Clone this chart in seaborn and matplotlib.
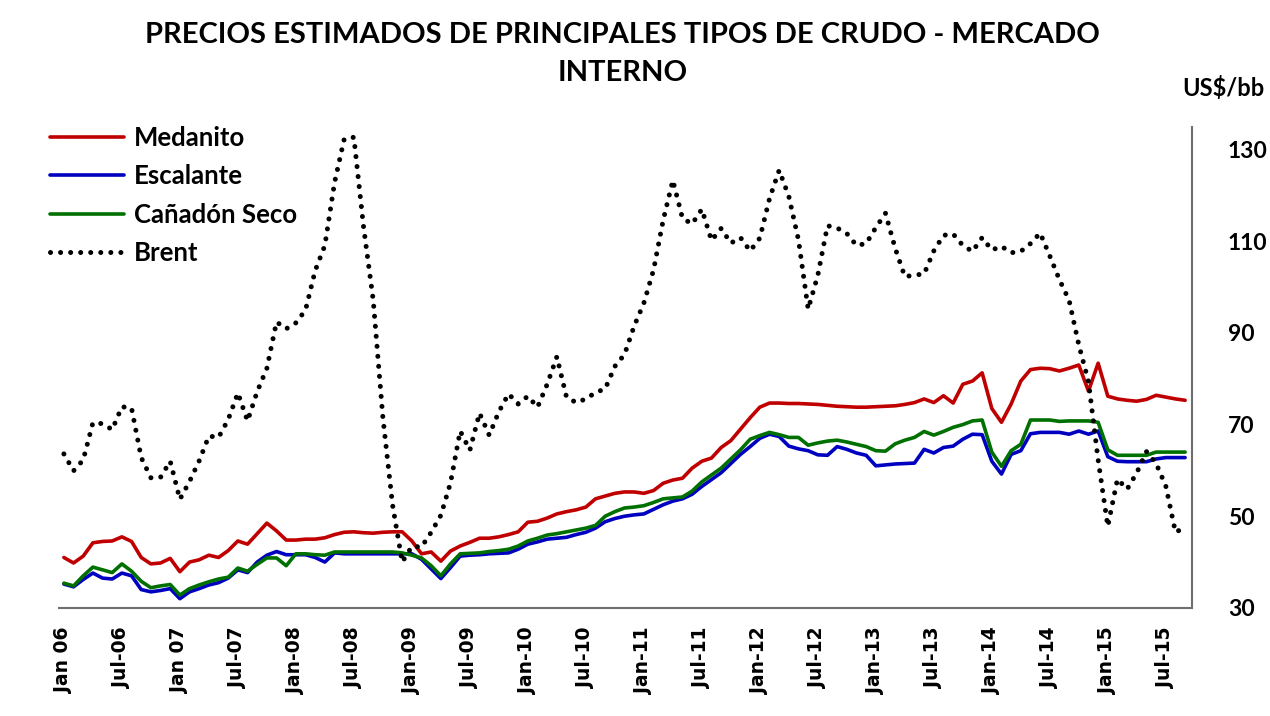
import matplotlib
matplotlib.use("Agg")
import matplotlib.pyplot as plt
import seaborn as sns
import pandas as pd

# Monthly prices Jan 2006 - Sep 2015 (US$/bbl)
medanito = [
    41.0, 39.8, 41.3, 44.2, 44.5, 44.6, 45.5, 44.5, 41.0, 39.6, 39.8, 40.8,
    37.9, 40.0, 40.5, 41.5, 41.0, 42.5, 44.6, 43.9, 46.2, 48.5, 46.8, 44.8,
    44.8, 45.0, 45.0, 45.3, 46.0, 46.5, 46.6, 46.4, 46.3, 46.5, 46.6, 46.6,
    44.6, 41.8, 42.2, 40.2, 42.4, 43.5, 44.3, 45.2, 45.2, 45.5, 46.0, 46.6,
    48.7, 48.9, 49.6, 50.5, 51.0, 51.4, 52.0, 53.8, 54.4, 55.0, 55.3, 55.3,
    55.0, 55.6, 57.2, 57.9, 58.3, 60.5, 62.0, 62.7, 65.0, 66.5, 69.0, 71.5,
    73.8, 74.7, 74.7, 74.6, 74.6, 74.5, 74.4, 74.2, 74.0, 73.9, 73.8, 73.8,
    73.9, 74.0, 74.1, 74.4, 74.8, 75.6, 74.8, 76.3, 74.7, 78.8, 79.5, 81.3,
    73.5, 70.5, 74.5, 79.5, 82.0, 82.3, 82.2, 81.7, 82.3, 83.0, 77.3, 83.4,
    76.2, 75.6, 75.3, 75.1, 75.5, 76.4, 76.0, 75.6, 75.3,
]
escalante = [
    35.2, 34.6, 36.2, 37.6, 36.5, 36.3, 37.6, 37.0, 34.0, 33.5, 33.8, 34.2,
    32.0, 33.5, 34.2, 35.0, 35.5, 36.5, 38.3, 37.7, 40.0, 41.5, 42.3, 41.6,
    41.6, 41.6, 41.0, 40.0, 42.0, 41.8, 41.8, 41.8, 41.8, 41.8, 41.8, 41.8,
    41.8, 40.6, 38.5, 36.4, 38.8, 41.3, 41.5, 41.6, 41.8, 41.9, 42.0, 42.8,
    43.9, 44.4, 45.0, 45.2, 45.4, 46.0, 46.5, 47.4, 48.8, 49.5, 50.0, 50.3,
    50.5, 51.5, 52.5, 53.3, 53.8, 54.8, 56.5, 58.0, 59.5, 61.5, 63.5, 65.2,
    67.0, 67.9, 67.4, 65.3, 64.7, 64.3, 63.4, 63.3, 65.2, 64.6, 63.8, 63.3,
    61.0, 61.2, 61.4, 61.5, 61.6, 64.6, 63.8, 65.0, 65.3, 66.8, 67.9, 67.8,
    62.0, 59.2, 63.5, 64.3, 68.0, 68.3, 68.3, 68.3, 67.9, 68.6, 67.9, 68.6,
    63.0, 62.0, 61.9, 61.9, 61.9, 62.5, 62.8, 62.8, 62.8,
]
canadon_seco = [
    35.4, 34.8, 37.0, 38.9, 38.3, 37.7, 39.6, 38.0, 35.8, 34.4, 34.8, 35.1,
    32.8, 34.2, 35.0, 35.7, 36.3, 36.7, 38.7, 38.0, 39.5, 40.9, 40.9, 39.2,
    41.8, 41.8, 41.6, 41.5, 42.2, 42.2, 42.2, 42.2, 42.2, 42.2, 42.2, 42.0,
    41.5, 40.9, 39.2, 37.0, 39.6, 41.8, 41.9, 42.0, 42.3, 42.5, 42.8, 43.5,
    44.6, 45.2, 45.9, 46.2, 46.6, 47.0, 47.4, 48.0, 50.0, 51.0, 51.8, 52.0,
    52.3, 53.0, 53.8, 54.0, 54.2, 55.5, 57.5, 59.0, 60.5, 62.5, 64.5, 66.8,
    67.6, 68.3, 67.8, 67.2, 67.2, 65.5, 66.0, 66.4, 66.6, 66.2, 65.7, 65.2,
    64.3, 64.2, 65.8, 66.6, 67.2, 68.5, 67.7, 68.5, 69.4, 70.0, 70.8, 71.0,
    64.0, 60.9, 64.3, 65.7, 71.0, 71.0, 71.0, 70.7, 70.8, 70.8, 70.8, 70.5,
    64.5, 63.3, 63.3, 63.3, 63.3, 64.0, 64.0, 64.0, 64.0,
]
brent = [
    63.6, 59.9, 62.3, 70.4, 70.2, 68.9, 73.9, 73.6, 62.8, 58.4, 58.5, 62.0,
    53.7, 57.6, 62.1, 67.5, 67.2, 71.1, 76.9, 70.8, 77.2, 82.3, 92.4, 90.9,
    92.2, 95.0, 103.6, 109.1, 122.8, 132.3, 132.7, 113.2, 97.2, 71.6, 52.5, 40.0,
    43.4, 43.3, 46.5, 50.2, 57.3, 68.6, 64.4, 72.5, 67.7, 72.8, 76.7, 74.5,
    76.2, 73.8, 78.8, 84.8, 76.0, 74.8, 75.6, 77.0, 77.8, 82.7, 85.3, 91.5,
    96.5, 103.7, 114.6, 123.3, 115.0, 113.8, 117.0, 110.2, 112.8, 109.6, 110.8, 107.9,
    110.7, 119.3, 125.5, 119.8, 110.3, 95.2, 102.6, 113.4, 112.9, 111.7, 109.1, 109.5,
    113.0, 116.1, 108.5, 102.3, 102.6, 102.9, 107.9, 111.3, 111.6, 109.1, 107.8, 110.8,
    108.1, 108.9, 107.5, 107.8, 109.5, 111.8, 106.8, 101.6, 97.1, 87.4, 79.4, 62.3,
    47.8, 58.1, 55.9, 59.5, 64.1, 61.5, 56.6, 46.5, 47.6,
]
tick_labels = ["Jan 06", "Jul-06", "Jan 07", "Jul-07", "Jan-08", "Jul-08",
               "Jan-09", "Jul-09", "Jan-10", "Jul-10", "Jan-11", "Jul-11",
               "Jan-12", "Jul-12", "Jan-13", "Jul-13", "Jan-14", "Jul-14",
               "Jan-15", "Jul-15"]

months = list(range(len(brent)))
df = pd.DataFrame({"mes": months, "Medanito": medanito, "Escalante": escalante,
                   "Cañadón Seco": canadon_seco, "Brent": brent})

sns.set_style("white")
plt.rcParams["font.family"] = ["Lato", "DejaVu Sans"]
plt.rcParams["text.color"] = "black"
plt.rcParams["xtick.color"] = "black"
plt.rcParams["ytick.color"] = "black"

fig = plt.figure(figsize=(12.7, 7.16), dpi=100)
ax = fig.add_axes([0.0465, 0.151, 0.892, 0.672])

colores = {"Medanito": "#C00000", "Escalante": "#0000C0", "Cañadón Seco": "#007000"}
for serie, color in colores.items():
    sns.lineplot(data=df, x="mes", y=serie, ax=ax, color=color, linewidth=2.6,
                 label=serie)
sns.lineplot(data=df, x="mes", y="Brent", ax=ax, color="black", linewidth=3.6,
             linestyle=(0, (0.01, 2.0)), dash_capstyle="round", label="Brent")

ax.set_xlim(-0.5, 116.7)
ax.set_ylim(30, 135)
ax.yaxis.tick_right()
ax.set_yticks([30, 50, 70, 90, 110, 130])
ax.set_xticks(range(0, len(brent), 6))
ax.set_xticklabels(tick_labels, rotation=90, fontsize=13.5, fontweight="bold",
                   family="DejaVu Sans")
ax.tick_params(axis="y", length=0, pad=26, labelsize=16.5)
ax.tick_params(axis="x", length=0, pad=14)
for lab in ax.get_yticklabels():
    lab.set_fontweight("bold")
ax.set_xlabel("")
ax.set_ylabel("")

for lado in ["left", "top"]:
    ax.spines[lado].set_visible(False)
for lado in ["right", "bottom"]:
    ax.spines[lado].set_color("#6e6e6e")
    ax.spines[lado].set_linewidth(1.5)

leg = ax.legend(loc="upper left", bbox_to_anchor=(0.0315, 0.838),
                bbox_transform=fig.transFigure, frameon=False, fontsize=18.5,
                handlelength=2.85, handletextpad=0.4, labelspacing=0.55,
                borderaxespad=0)
for txt in leg.get_texts():
    txt.set_fontweight("bold")
    txt.set_color("black")

fig.text(0.49, 0.969, "PRECIOS ESTIMADOS DE PRINCIPALES TIPOS DE CRUDO - MERCADO\nINTERNO",
         ha="center", va="top", fontsize=21, fontweight="bold", linespacing=1.55)
fig.text(0.996, 0.877, "US$/bb", ha="right", va="center", fontsize=17,
         fontweight="bold")

fig.savefig("out.png", dpi=100)
